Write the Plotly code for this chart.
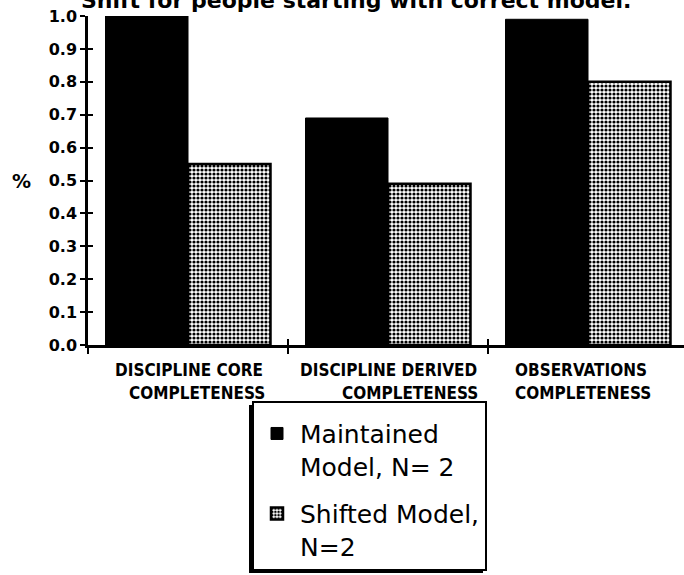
import plotly.graph_objects as go

# ---- data -------------------------------------------------------------
categories = ["Discipline core", "Discipline derived", "Observations"]
label_line1 = ["DISCIPLINE CORE", "DISCIPLINE DERIVED", "OBSERVATIONS"]
label_line2 = ["COMPLETENESS", "COMPLETENESS", "COMPLETENESS"]

maintained = [1.00, 0.69, 0.99]
shifted = [0.55, 0.49, 0.80]

series_names = ["Maintained<br>Model, N= 2", "Shifted Model,<br>N=2"]

y_ticks = [0.0, 0.1, 0.2, 0.3, 0.4, 0.5, 0.6, 0.7, 0.8, 0.9, 1.0]
y_tick_labels = ["0.0", "0.1", "0.2", "0.3", "0.4", "0.5",
                 "0.6", "0.7", "0.8", "0.9", "1.0"]

title_text = "Shift for people starting with correct model."
y_title = "%"

# ---- styling ------------------------------------------------------------
W, H = 684, 575
ML, MR, MT, MB = 88, 0, 16, 230
PLOT_W = W - ML - MR
PLOT_H = H - MT - MB
X_RANGE = [-0.5, 2.48]


def px_x(px):
    return (px - ML) / PLOT_W


def px_y(px):
    return (H - MB - px) / PLOT_H


tick_font = dict(family="DejaVu Sans", size=16, color="black", weight="bold")
cat_font = dict(family="DejaVu Sans Condensed", size=17, color="black", weight="bold")
legend_font = dict(family="DejaVu Sans", size=25, color="black")
title_font = dict(family="DejaVu Sans", size=22, color="black", weight="bold")

fig = go.Figure()

fig.add_trace(go.Bar(
    x=categories, y=maintained, name=series_names[0],
    legendgroup="a",
    marker=dict(color="black", line=dict(color="black", width=1)),
))
fig.add_trace(go.Bar(
    x=categories, y=shifted, name=series_names[1],
    legendgroup="b",
    marker=dict(
        color="white",
        line=dict(color="black", width=2.5),
        pattern=dict(shape=".", fgcolor="black", bgcolor="white",
                     size=4, solidity=0.5, fillmode="replace"),
    ),
))

# empty helper trace so the overlay axes (inner tick marks) are rendered
fig.add_trace(go.Scatter(x=[None], y=[None], xaxis="x2", yaxis="y2",
                         showlegend=False, hoverinfo="skip"))

# category labels, two lines each
line1_shift = [1, 0, -7]
line2_shift = [9, 22, -5]
for i, cat in enumerate(categories):
    fig.add_annotation(x=cat, xref="x", y=0, yref="paper", yanchor="middle",
                       yshift=-25, xshift=line1_shift[i], text=label_line1[i],
                       showarrow=False, font=cat_font)
    fig.add_annotation(x=cat, xref="x", y=0, yref="paper", yanchor="middle",
                       yshift=-48, xshift=line2_shift[i], text=label_line2[i],
                       showarrow=False, font=cat_font)

# axis title and the heading cut by the top edge of the page
fig.add_annotation(x=px_x(21), xref="paper", xanchor="center",
                   y=0.5, yref="paper", yanchor="middle",
                   text=y_title, showarrow=False,
                   font=dict(tick_font, size=19))
fig.add_annotation(xref="paper", x=-0.015, xanchor="left",
                   yref="paper", y=1.0, yanchor="bottom", yshift=1,
                   text=title_text, showarrow=False, font=title_font)

# drop shadow behind the legend box (legend background covers the rest)
fig.add_shape(type="rect", xref="paper", yref="paper",
              x0=px_x(249), x1=px_x(483), y0=px_y(573), y1=px_y(405),
              fillcolor="black", line=dict(width=0), layer="above")

fig.update_layout(
    width=W, height=H,
    margin=dict(l=ML, r=MR, t=MT, b=MB, pad=0),
    paper_bgcolor="white", plot_bgcolor="white",
    barmode="group", bargap=0.175, bargroupgap=0.0,
    showlegend=True,
    legend=dict(
        x=px_x(252), xanchor="left", y=-0.17, yanchor="top",
        bordercolor="black", borderwidth=2, bgcolor="white",
        font=legend_font, valign="top", traceorder="grouped",
        tracegroupgap=12, itemwidth=36,
        title=dict(text=" ", font=dict(size=6)),
    ),
    xaxis=dict(
        type="category", range=X_RANGE, showgrid=False, zeroline=False,
        showline=True, linecolor="black", linewidth=2.5,
        ticks="outside", tickson="boundaries", ticklen=6, tickwidth=2,
        tickcolor="black", showticklabels=False,
    ),
    yaxis=dict(
        range=[0, 1.0], tickvals=y_ticks, ticktext=y_tick_labels,
        showgrid=False, zeroline=False, showline=True, linecolor="black",
        linewidth=2.5, ticks="outside", ticklen=5, tickwidth=2,
        tickcolor="black", tickfont=tick_font,
    ),
    xaxis2=dict(
        overlaying="x", anchor="y", range=X_RANGE, tickvals=[0.5, 1.5],
        ticks="inside", ticklen=6, tickwidth=2, tickcolor="black",
        showticklabels=False, showgrid=False, zeroline=False, showline=False,
        side="bottom",
    ),
    yaxis2=dict(
        overlaying="y", anchor="x", range=[0, 1.0], tickvals=y_ticks,
        ticks="inside", ticklen=5, tickwidth=2, tickcolor="black",
        showticklabels=False, showgrid=False, zeroline=False, showline=False,
        side="left",
    ),
)

fig.write_html("out.html")
